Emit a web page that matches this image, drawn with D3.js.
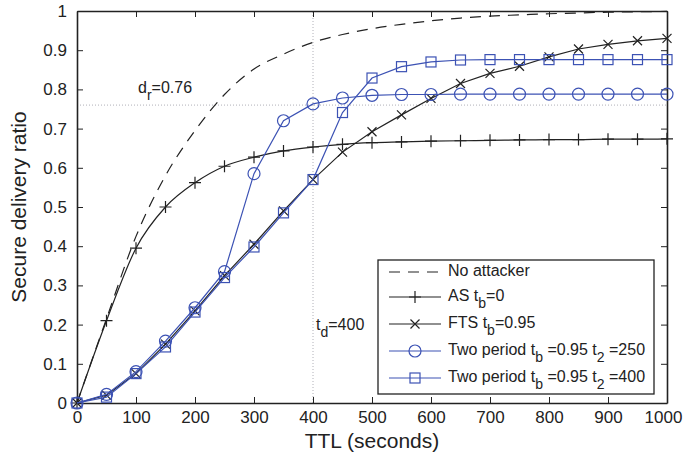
<!DOCTYPE html>
<html>
  <head>
    <script src="https://cdn.jsdelivr.net/npm/d3@7"></script>
    <style>
      body { margin: 0; background: #fff; }
      text { font-family: "Liberation Sans", Arial, sans-serif; fill: #222; }
    </style>
  </head>
  <body>
    <script type="text/javascript">

    // TTL values (seconds), one point every 50
    var ttl = [0, 50, 100, 150, 200, 250, 300, 350, 400, 450, 500,
               550, 600, 650, 700, 750, 800, 850, 900, 950, 1000];

    // secure delivery ratio per series
    var noAttacker = [0, 0.215, 0.425, 0.58, 0.695, 0.787, 0.852, 0.89, 0.92, 0.94, 0.955,
                      0.966, 0.975, 0.982, 0.987, 0.99, 0.993, 0.995, 0.997, 0.998, 0.999];
    var asTb0 = [0, 0.21, 0.395, 0.50, 0.562, 0.604, 0.627, 0.643, 0.653, 0.66, 0.664,
                 0.666, 0.668, 0.669, 0.67, 0.671, 0.672, 0.672, 0.673, 0.673, 0.674];
    var fts = [0, 0.02, 0.075, 0.15, 0.235, 0.325, 0.405, 0.49, 0.57, 0.64, 0.692,
               0.735, 0.777, 0.815, 0.841, 0.859, 0.883, 0.903, 0.915, 0.924, 0.93];
    var twoPeriod250 = [0, 0.022, 0.08, 0.158, 0.243, 0.335, 0.585, 0.72, 0.763, 0.778, 0.785,
                        0.787, 0.787, 0.788, 0.788, 0.788, 0.788, 0.788, 0.788, 0.788, 0.788];
    var twoPeriod400 = [0, 0.015, 0.075, 0.143, 0.232, 0.32, 0.398, 0.485, 0.57, 0.741, 0.829,
                        0.858, 0.87, 0.875, 0.876, 0.876, 0.876, 0.876, 0.876, 0.876, 0.876];

    var xTicks = [0, 100, 200, 300, 400, 500, 600, 700, 800, 900, 1000];
    var yTicks = [0, 0.1, 0.2, 0.3, 0.4, 0.5, 0.6, 0.7, 0.8, 0.9, 1];

    var dr = 0.76;   // horizontal reference
    var td = 400;    // vertical reference

    var blue = "#3c52b4";

    var width = 684, height = 457;
    var margin = {left: 77, right: 17, top: 11, bottom: 54};
    var plotW = width - margin.left - margin.right;
    var plotH = height - margin.top - margin.bottom;

    var svg = d3.select("body").append("svg")
        .attr("width", width)
        .attr("height", height);

    var x = d3.scaleLinear().domain([0, 1000]).range([margin.left, margin.left + plotW]);
    var y = d3.scaleLinear().domain([0, 1]).range([margin.top + plotH, margin.top]);

    // reference lines (dotted)
    svg.append("line")
        .attr("x1", x(0)).attr("x2", x(1000))
        .attr("y1", y(dr)).attr("y2", y(dr))
        .attr("stroke", "#b0b0b8").attr("stroke-width", 1)
        .attr("stroke-dasharray", "1,2");
    svg.append("line")
        .attr("x1", x(td)).attr("x2", x(td))
        .attr("y1", y(0)).attr("y2", y(1))
        .attr("stroke", "#b0b0b8").attr("stroke-width", 1)
        .attr("stroke-dasharray", "1,2");

    // axes with inward ticks, mirrored on top and right
    var fmtY = function (d) { return d === 0 ? "0" : (d === 1 ? "1" : d3.format(".1f")(d)); };

    var xAxisG = svg.append("g")
        .attr("transform", "translate(0," + y(0) + ")")
        .call(d3.axisBottom(x).tickValues(xTicks).tickFormat(d3.format("d"))
              .tickSizeInner(-6).tickSizeOuter(0).tickPadding(8));
    svg.append("g")
        .attr("transform", "translate(" + x(0) + ",0)")
        .call(d3.axisLeft(y).tickValues(yTicks).tickFormat(fmtY).tickSizeInner(-6).tickSizeOuter(0).tickPadding(10));
    svg.append("g")
        .attr("transform", "translate(0," + y(1) + ")")
        .call(d3.axisTop(x).tickValues(xTicks).tickSizeInner(-6).tickSizeOuter(0).tickFormat(""));
    svg.append("g")
        .attr("transform", "translate(" + x(1000) + ",0)")
        .call(d3.axisRight(y).tickValues(yTicks).tickSizeInner(-6).tickSizeOuter(0).tickFormat(""));

    svg.selectAll(".domain").attr("stroke", "#222").attr("stroke-width", 1.6);
    svg.selectAll(".tick line").attr("stroke", "#222");
    svg.selectAll(".tick text")
        .style("font-family", "'Liberation Sans', Arial, sans-serif")
        .style("font-size", "17px")
        .attr("fill", "#222");
    // keep the last x label inside the window
    xAxisG.selectAll(".tick text").filter(function (d) { return d === 1000; }).attr("dx", -4);

    // axis titles
    svg.append("text")
        .attr("x", x(500)).attr("y", 448)
        .attr("text-anchor", "middle")
        .style("font-size", "21px")
        .text("TTL (seconds)");
    svg.append("text")
        .attr("transform", "translate(26," + y(0.5) + ") rotate(-90)")
        .attr("text-anchor", "middle")
        .style("font-size", "21px")
        .text("Secure delivery ratio");

    // series
    var series = [
      {name: "none", values: noAttacker, color: "#222", dash: "11,8", marker: null, curve: d3.curveMonotoneX},
      {name: "as", values: asTb0, color: "#222", dash: null, marker: "plus", curve: d3.curveMonotoneX},
      {name: "fts", values: fts, color: "#222", dash: null, marker: "cross", curve: d3.curveLinear},
      {name: "tp250", values: twoPeriod250, color: blue, dash: null, marker: "circle", curve: d3.curveLinear},
      {name: "tp400", values: twoPeriod400, color: blue, dash: null, marker: "square", curve: d3.curveLinear}
    ];

    function drawMarker(g, type, cx, cy, color) {
      if (type === "plus") {
        g.append("path").attr("d", "M" + (cx - 6) + "," + cy + "H" + (cx + 6) + "M" + cx + "," + (cy - 6) + "V" + (cy + 6))
          .attr("stroke", color).attr("stroke-width", 1.2).attr("fill", "none");
      } else if (type === "cross") {
        g.append("path").attr("d", "M" + (cx - 4.5) + "," + (cy - 4.5) + "L" + (cx + 4.5) + "," + (cy + 4.5) +
                                   "M" + (cx - 4.5) + "," + (cy + 4.5) + "L" + (cx + 4.5) + "," + (cy - 4.5))
          .attr("stroke", color).attr("stroke-width", 1.2).attr("fill", "none");
      } else if (type === "circle") {
        g.append("circle").attr("cx", cx).attr("cy", cy).attr("r", 6)
          .attr("stroke", color).attr("stroke-width", 1.2).attr("fill", "none");
      } else if (type === "square") {
        g.append("rect").attr("x", cx - 5).attr("y", cy - 5).attr("width", 10).attr("height", 10)
          .attr("stroke", color).attr("stroke-width", 1.2).attr("fill", "none");
      }
    }

    series.forEach(function (s) {
      var pts = ttl.map(function (t, i) { return [t, s.values[i]]; });
      var line = d3.line().x(function (d) { return x(d[0]); }).y(function (d) { return y(d[1]); }).curve(s.curve);
      svg.append("path")
          .datum(pts)
          .attr("d", line)
          .attr("fill", "none")
          .attr("stroke", s.color)
          .attr("stroke-width", 1.2)
          .attr("stroke-dasharray", s.dash);
      if (s.marker) {
        var g = svg.append("g");
        pts.forEach(function (p) { drawMarker(g, s.marker, x(p[0]), y(p[1]), s.color); });
      }
    });

    // annotation text with subscripts
    function subText(xp, yp, parts, size) {
      var t = svg.append("text").attr("x", xp).attr("y", yp).style("font-size", size + "px");
      parts.forEach(function (p) {
        if (p.sub) {
          t.append("tspan").attr("dy", 7).style("font-size", (size - 2) + "px").text(p.sub);
        } else {
          t.append("tspan").attr("dy", p.after ? -7 : 0).text(p.text);
        }
      });
      return t;
    }

    subText(138, 93, [{text: "d"}, {sub: "r"}, {text: "=0.76", after: true}], 16);
    subText(316, 330, [{text: "t"}, {sub: "d"}, {text: "=400", after: true}], 16);

    // legend
    var lg = svg.append("g");
    lg.append("rect")
        .attr("x", 378).attr("y", 260).attr("width", 276).attr("height", 134)
        .attr("fill", "#fff").attr("stroke", "#222").attr("stroke-width", 1.3);

    var legendRows = [
      {idx: 0, y: 272, parts: [{text: "No attacker"}]},
      {idx: 1, y: 297, parts: [{text: "AS t"}, {sub: "b"}, {text: "=0", after: true}]},
      {idx: 2, y: 324, parts: [{text: "FTS t"}, {sub: "b"}, {text: "=0.95", after: true}]},
      {idx: 3, y: 351, parts: [{text: "Two period t"}, {sub: "b"}, {text: " =0.95 t", after: true}, {sub: "2"}, {text: " =250", after: true}]},
      {idx: 4, y: 378, parts: [{text: "Two period t"}, {sub: "b"}, {text: " =0.95 t", after: true}, {sub: "2"}, {text: " =400", after: true}]}
    ];

    legendRows.forEach(function (r) {
      var s = series[r.idx];
      lg.append("line")
          .attr("x1", 389).attr("x2", 441).attr("y1", r.y).attr("y2", r.y)
          .attr("stroke", s.color).attr("stroke-width", 1.2)
          .attr("stroke-dasharray", s.dash);
      if (s.marker) drawMarker(lg, s.marker, 415, r.y, s.color);
      subText(448, r.y + 4, r.parts, 16);
    });

    </script>
  </body>
</html>
